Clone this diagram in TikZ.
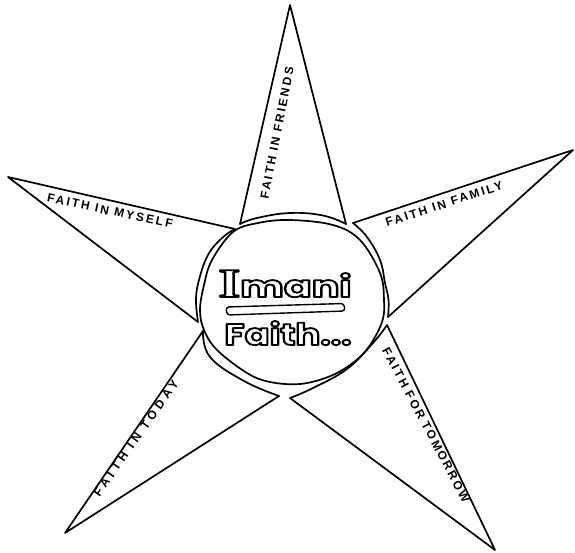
\documentclass[tikz,border=0pt]{standalone}
\usepackage{fontspec}
\setmainfont{Liberation Sans}
\newfontfamily\handfont[LetterSpace=18]{Liberation Sans}
\newfontfamily\widehandfont[LetterSpace=34]{Liberation Sans}
\newfontfamily\bubblefont{Poppins}
\newfontfamily\slabfont{Liberation Serif}
% outlined (stroked) letters
\newcommand\hollow[1]{\special{pdf:literal direct 1 Tr 1.8 w}#1\special{pdf:literal direct 0 Tr}}

\begin{document}
\begin{tikzpicture}[x=1pt, y=-1pt, line join=round, line cap=round,
    pen/.style={line width=1.7pt},
    hand/.style={inner sep=0pt, font=\handfont\bfseries\fontsize{12}{12}\selectfont},
    widehand/.style={hand, font=\widehandfont\bfseries\fontsize{12}{12}\selectfont}]
    \useasboundingbox (0,0) rectangle (575,553);

    % Hub
    \draw[pen] plot[smooth cycle, tension=0.6] coordinates {
        (290,220) (333,225) (360,240) (380,273) (384,300) (382,322)
        (368,348) (350,365) (328,377) (300,384) (270,382) (247,373)
        (217,350) (204,330) (200,310) (204,285) (212,260) (233,232) (258,223)};

    % Star points: base corners and tips
    \coordinate (friendsL) at (240,224);
    \coordinate (friendsTip) at (290,5);
    \coordinate (friendsR) at (346,224);

    \coordinate (familyU) at (353,223);
    \coordinate (familyTip) at (573,150);
    \coordinate (familyD) at (388,317);

    \coordinate (tomorrowU) at (387,325);
    \coordinate (tomorrowTip) at (495,550);
    \coordinate (tomorrowL) at (290,398);

    \coordinate (todayD) at (279,396);
    \coordinate (todayTip) at (65,533);
    \coordinate (todayU) at (203,331);

    \coordinate (myselfD) at (198,322);
    \coordinate (myselfTip) at (8,177);
    \coordinate (myselfU) at (235,229);

    % Points
    \draw[pen] (friendsL) -- (friendsTip) -- (friendsR);
    \draw[pen] (familyU) -- (familyTip) -- (familyD);
    \draw[pen] (tomorrowU) -- (tomorrowTip) -- (tomorrowL);
    \draw[pen] (todayD) -- (todayTip) -- (todayU);
    \draw[pen] (myselfD) -- (myselfTip) -- (myselfU);

    % Bases, round the hub
    \draw[pen] plot[smooth, tension=0.7] coordinates {(friendsR) (323,215.5) (290,213) (257,218) (friendsL)};
    \draw[pen] plot[smooth, tension=0.7] coordinates {(familyD) (388.5,300) (385,283) (380,260) (367,237) (familyU)};
    \draw[pen] plot[smooth, tension=0.7] coordinates {(tomorrowL) (313,388) (347,369) (373,343) (tomorrowU)};
    \draw[pen] plot[smooth, tension=0.7] coordinates {(todayU) (210,357) (244,381) (todayD)};
    \draw[pen] plot[smooth, tension=0.7] coordinates {(myselfD) (196,300) (199,280) (208,255) (222,238) (myselfU)};

    % Labels
    \node[hand, rotate=79] (friends) at (277,133) {FAITH IN FRIENDS};
    \node[hand, rotate=18] (family) at (444,204) {FAITH IN FAMILY};
    \node[hand, rotate=-62] (tomorrow) at (426,425) {FAITH FOR TOMORROW};
    \node[widehand, rotate=55] (today) at (136,438) {FAITH IN TODAY};
    \node[hand, rotate=-12] (myself) at (110,211) {FAITH IN MYSELF};

    % Title
    \node[anchor=base, inner sep=0pt] (imani) at (285,297)
        {\scalebox{1.37}[1]{\hollow{{\slabfont\bfseries\fontsize{41}{41}\selectfont I}{\bubblefont\bfseries\fontsize{30}{30}\selectfont mani}}}};
    \draw[pen, line width=1.4pt, rounded corners=3pt]
        (226,307) -- (344,303.5) -- (345,311) -- (227,315) -- cycle;
    \node[anchor=base, inner sep=0pt] (faith) at (288,345)
        {\scalebox{1.23}[1]{\hollow{\bubblefont\bfseries\fontsize{30}{30}\selectfont Faith...}}};
\end{tikzpicture}
\end{document}
